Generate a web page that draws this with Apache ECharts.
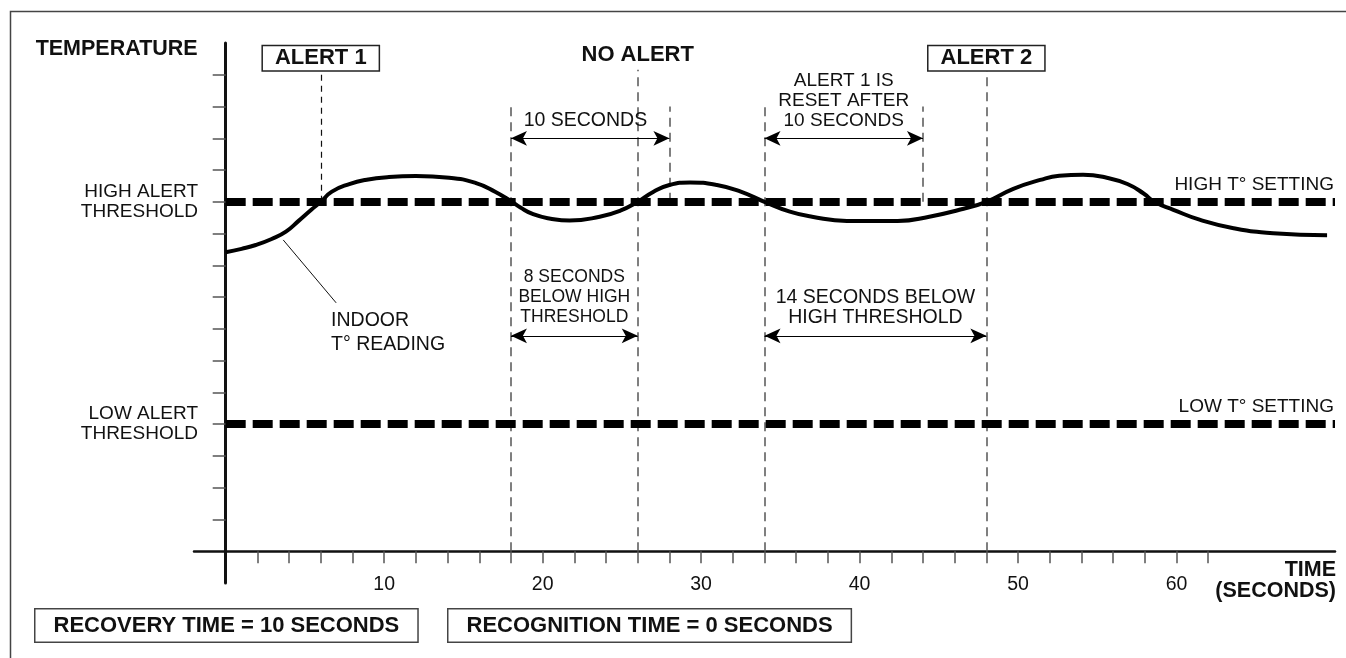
<!DOCTYPE html>
<html>
<head>
<meta charset="utf-8">
<title>Temperature alert timing</title>
<style>
  html, body { margin: 0; padding: 0; background: #fff; }
  #main { width: 1346px; height: 658px; }
</style>
</head>
<body>
<div id="main"></div>
<script src="https://cdn.jsdelivr.net/npm/echarts@6/dist/echarts.min.js"></script>
<script>
// indoor T° reading (time in seconds, temperature in tick units)
var timeSec = [0, 1, 1.9, 2.9, 3.8, 4.6, 5.4, 6, 6.7, 7.8, 8.8, 10.3, 12, 14.1, 15.8, 17, 18, 18.6, 19.4, 20.5, 21.7,
  23.6, 24.9, 26, 27, 28, 29.3, 31, 32.5, 34, 35.6, 37, 39.2, 42.4, 44.4, 46.3, 48, 49.7, 51.4, 52.6, 54.1,
  55.6, 56.9, 57.9, 58.6, 59.8, 61.5, 63.6, 66.1, 69.5];
var indoorTemp = [9.41, 9.52, 9.64, 9.83, 10.06, 10.4, 10.75, 11, 11.32, 11.56, 11.69, 11.78, 11.81, 11.76, 11.59, 11.32, 11.02, 10.82, 10.61, 10.47, 10.41,
  10.53, 10.72, 11, 11.32, 11.53, 11.61, 11.53, 11.32, 11, 10.69, 10.53, 10.4, 10.4, 10.53, 10.75, 11, 11.41, 11.69, 11.82, 11.85,
  11.76, 11.56, 11.27, 11, 10.75, 10.43, 10.17, 10.01, 9.95];

var highSetting = 11;
var lowSetting = 4;

var xTickValues = [2, 4, 6, 8, 10, 12, 14, 16, 18, 20, 22, 24, 26, 28, 30, 32, 34, 36, 38, 40, 42, 44, 46, 48, 50, 52, 54, 56, 58, 60, 62];
var xLabelValues = [10, 20, 30, 40, 50, 60];
var yTickValues = [1, 2, 3, 4, 5, 6, 7, 8, 9, 10, 11, 12, 13, 14, 15];
var yLabelValues = [lowSetting, highSetting];

// vertical guides: [time, from, to]
var guideLines = [[18, 0, 14], [26, 0, 15.16], [28, 11, 14], [34, 0, 14], [44, 11, 14], [48, 0, 15.16]];
var alertLine = [6, 11, 15.16];
// double arrows: [from time, to time, level]
var spans = [[18, 28, 13], [34, 44, 13], [18, 26, 6.78], [34, 48, 6.78]];
// leader from curve to the "INDOOR" note
var leader = [[3.63, 9.8], [6.97, 7.82]];

var FONT = "'Liberation Sans', Arial, sans-serif";
var INK = '#111';

var myChart = echarts.init(document.getElementById('main'));

var curveData = timeSec.map(function (t, i) { return [t, indoorTemp[i]]; });

var guideData = guideLines.map(function (g) {
  return [{ coord: [g[0], g[1]] }, { coord: [g[0], g[2]] }];
});
guideData.push([{ coord: [alertLine[0], alertLine[1]], lineStyle: { color: '#111', width: 1.2, type: [6, 5] } },
  { coord: [alertLine[0], alertLine[2]] }]);
guideData.push([{ coord: leader[0], lineStyle: { color: '#111', width: 1, type: 'solid' } }, { coord: leader[1] }]);

var spanData = spans.map(function (s) {
  return [{ coord: [s[0], s[2]] }, { coord: [s[1], s[2]] }];
});

function note(x, y, text, extra) {
  var label = {
    show: true, position: 'inside', formatter: text, color: INK,
    fontFamily: FONT, fontSize: 19, lineHeight: 20, align: 'center'
  };
  for (var k in extra) label[k] = extra[k];
  return { coord: [x, y], symbolSize: 0, label: label };
}
var boxStyle = {
  fontWeight: 'bold', fontSize: 22, lineHeight: 20, borderColor: '#222', borderWidth: 1.5,
  backgroundColor: '#fff', padding: [2, 12, 2, 12]
};

var noteData = [
  note(6, 15.52, 'ALERT 1', boxStyle),
  note(48, 15.52, 'ALERT 2', boxStyle),
  note(26, 15.63, 'NO ALERT', { fontWeight: 'bold', fontSize: 22 }),
  note(22.7, 13.57, '10 SECONDS', { fontSize: 19.5 }),
  note(39, 14.17, 'ALERT 1 IS\nRESET AFTER\n10 SECONDS'),
  note(22, 7.99, '8 SECONDS\nBELOW HIGH\nTHRESHOLD', { fontSize: 17.5 }),
  note(41, 7.67, '14 SECONDS BELOW\nHIGH THRESHOLD', { fontSize: 19.5 }),
  note(6.65, 6.87, 'INDOOR\nT° READING', { position: 'right', distance: 0, align: 'left', lineHeight: 24, fontSize: 19.5 })
];

function settingLine(v, text) {
  return [{
    coord: [0, v],
    label: {
      show: true, position: 'insideEndTop', formatter: text, distance: [1, 8],
      color: INK, fontFamily: FONT, fontSize: 19
    }
  }, { coord: [70, v] }];
}

option = {
  animation: false,
  backgroundColor: '#fff',
  textStyle: { fontFamily: FONT },
  grid: { left: 194, right: 11, top: 43, bottom: 75 },
  xAxis: {
    type: 'value', min: -2, max: 70, interval: 2,
    name: 'TIME\n(SECONDS)', nameLocation: 'end', nameGap: 1,
    nameTextStyle: {
      fontFamily: FONT, fontWeight: 'bold', fontSize: 21.5, lineHeight: 21, color: INK,
      align: 'right', verticalAlign: 'top', padding: [8, 0, 0, 0]
    },
    axisLine: { onZero: true, lineStyle: { color: INK, width: 2.5 } },
    axisTick: { customValues: xTickValues, length: 12, lineStyle: { color: '#555', width: 1.5 } },
    axisLabel: { customValues: xLabelValues, margin: -8, fontSize: 19.5, color: INK, fontFamily: FONT },
    splitLine: { show: false }
  },
  yAxis: {
    type: 'value', min: -1, max: 16, interval: 1,
    name: 'TEMPERATURE', nameLocation: 'end', nameGap: -6,
    nameTextStyle: {
      fontFamily: FONT, fontWeight: 'bold', fontSize: 21.5, color: INK,
      align: 'right', verticalAlign: 'middle', padding: [0, 28, 0, 0]
    },
    axisLine: { onZero: true, lineStyle: { color: INK, width: 3 } },
    axisTick: { customValues: yTickValues, length: 13, lineStyle: { color: '#555', width: 1.5 } },
    axisLabel: {
      customValues: yLabelValues, margin: -4, fontSize: 19, lineHeight: 20, color: INK, fontFamily: FONT,
      formatter: function (v) {
        return v === highSetting ? 'HIGH ALERT\nTHRESHOLD' : 'LOW ALERT\nTHRESHOLD';
      }
    },
    splitLine: { show: false }
  },
  series: [
    {
      name: 'guides', type: 'line', data: [], silent: true,
      markLine: {
        silent: true, symbol: 'none', label: { show: false },
        lineStyle: { color: '#555', width: 1.5, type: [9, 6] },
        data: guideData
      }
    },
    {
      name: 'settings', type: 'line', data: [], silent: true,
      markLine: {
        silent: true, symbol: 'none',
        lineStyle: { color: '#000', width: 8, type: [20, 7] },
        data: [settingLine(highSetting, 'HIGH T° SETTING'), settingLine(lowSetting, 'LOW T° SETTING')]
      }
    },
    {
      name: 'spans', type: 'line', data: [], silent: true,
      markLine: {
        silent: true, symbol: ['arrow', 'arrow'], symbolSize: [11, 16], label: { show: false },
        lineStyle: { color: '#000', width: 1.2, type: 'solid' },
        data: spanData
      }
    },
    {
      name: 'INDOOR T° READING', type: 'line', data: curveData, smooth: 0.5,
      symbol: 'none', lineStyle: { color: '#000', width: 4 }, z: 5,
      markPoint: { symbol: 'circle', symbolSize: 0, silent: true, data: noteData }
    }
  ],
  graphic: [
    { type: 'rect', left: 8, top: 9, silent: true, shape: { width: 1400, height: 700 },
      style: { fill: 'none', stroke: '#444', lineWidth: 1.5 } },
    { type: 'text', left: 34, top: 608, silent: true,
      style: { text: 'RECOVERY TIME = 10 SECONDS', font: 'bold 22px ' + FONT, fill: INK,
        backgroundColor: '#fff', borderColor: '#444', borderWidth: 1.5, padding: [5, 18, 5, 18] } },
    { type: 'text', left: 447, top: 608, silent: true,
      style: { text: 'RECOGNITION TIME = 0 SECONDS', font: 'bold 22px ' + FONT, fill: INK,
        backgroundColor: '#fff', borderColor: '#444', borderWidth: 1.5, padding: [5, 18, 5, 18] } }
  ]
};

myChart.setOption(option);
</script>
</body>
</html>
